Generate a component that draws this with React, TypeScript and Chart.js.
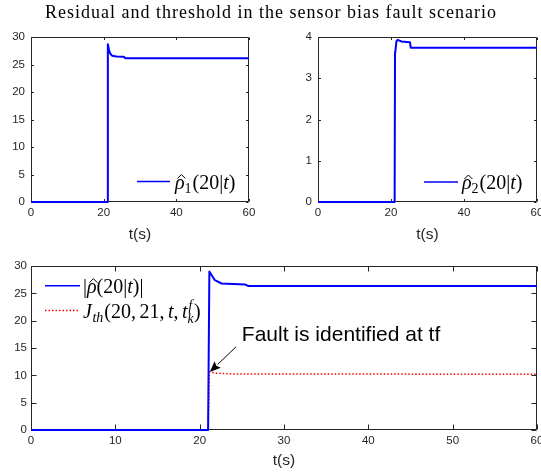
import React, { useEffect, useRef } from 'react';
import { Chart, registerables } from 'chart.js';

Chart.register(...registerables);

const W = 541;
const H = 476;

// ---------- data ----------
const tRho1 = [0, 21.0, 21.15, 21.5, 21.8, 22.3, 23.5, 25.6, 25.9, 60];
const rho1 = [0, 0, 28.7, 27.6, 27.0, 26.6, 26.45, 26.4, 26.15, 26.15];

const tRho2 = [0, 21.0, 21.1, 21.2, 21.5, 21.8, 22.9, 24.3, 25.2, 25.4, 60];
const rho2 = [0, 0, 3.63, 3.66, 3.9, 3.93, 3.89, 3.88, 3.87, 3.74, 3.74];

const tNorm = [0, 21.0, 21.15, 21.8, 22.6, 25.4, 25.8, 60];
const rhoNorm = [0, 0, 29.0, 27.4, 26.8, 26.6, 26.35, 26.35];

const tJth = [0, 21.0, 21.15, 22.0, 24.0, 60];
const jth = [0, 0, 10.6, 10.4, 10.25, 10.2];

const xTicksTop = [0, 20, 40, 60];
const xTicksBottom = [0, 10, 20, 30, 40, 50, 60];
const yTicksRho1 = [0, 5, 10, 15, 20, 25, 30];
const yTicksRho2 = [0, 1, 2, 3, 4];
const yTicksBottom = [0, 5, 10, 15, 20, 25, 30];

const titleText = 'Residual and threshold in the sensor bias fault scenario';
const xLabel = 't(s)';
const annotationText = 'Fault is identified at tf';
const annotationTextAt = [25.0, 17.4];
const arrowTail = [24.3, 15.2];
const arrowTip = [21.2, 10.6];

type Run = { s?: string; it?: boolean; sub?: boolean; sup?: boolean; hat?: boolean; stack?: [string, string]; gap?: number };

const legendRho1: Run[] = [{ s: 'ρ', it: true, hat: true }, { s: '1', sub: true }, { s: '(20|' }, { s: 't', it: true }, { s: ')' }];
const legendRho2: Run[] = [{ s: 'ρ', it: true, hat: true }, { s: '2', sub: true }, { s: '(20|' }, { s: 't', it: true }, { s: ')' }];
const legendNorm: Run[] = [{ s: '|' }, { s: 'ρ', it: true, hat: true }, { s: '(20|' }, { s: 't', it: true }, { s: ')|' }];
const legendJ: Run[] = [
  { s: 'J', it: true, gap: 0.5 }, { s: 'th', it: true, sub: true }, { s: '(20,', gap: 3.5 }, { s: '21,', gap: 3.5 }, { s: 't', it: true }, { s: ',', gap: 3.5 },
  { s: 't', it: true }, { stack: ['f', 'k'], it: true }, { s: ')' },
];

// ---------- styling ----------
const SANS = '"Liberation Sans", Arial, Helvetica, sans-serif';
const SERIF = '"Liberation Serif", "Times New Roman", serif';
const AX = '#262626';
const BLUE = '#0000ff';
const RED = '#ff0000';
const Y_W = 40;
const LEGEND_SIZE = 20;

const pts = (xs: number[], ys: number[]) => xs.map((x, i) => ({ x, y: ys[i] }));

function drawRuns(ctx: CanvasRenderingContext2D, x0: number, y: number, runs: Run[], size: number) {
  let x = x0;
  ctx.fillStyle = '#000';
  ctx.textBaseline = 'alphabetic';
  ctx.textAlign = 'left';
  for (const r of runs) {
    if (r.stack) {
      const fs = size * 0.68;
      ctx.font = `${r.it ? 'italic ' : ''}${fs}px ${SERIF}`;
      const w1 = ctx.measureText(r.stack[0]).width;
      const w2 = ctx.measureText(r.stack[1]).width;
      ctx.fillText(r.stack[0], x + 1, y - size * 0.38);
      ctx.fillText(r.stack[1], x, y + size * 0.25);
      x += Math.max(w1 + 1, w2) + 0.5;
      continue;
    }
    const fs = r.sub || r.sup ? size * 0.7 : size;
    ctx.font = `${r.it ? 'italic ' : ''}${fs}px ${SERIF}`;
    const dy = r.sub ? size * 0.22 : r.sup ? -size * 0.4 : 0;
    const s = r.s || '';
    const w = ctx.measureText(s).width;
    ctx.fillText(s, x, y + dy);
    if (r.hat) {
      const cx = x + w / 2 + size * 0.08;
      const by = y - size * 0.5;
      ctx.save();
      ctx.strokeStyle = '#000';
      ctx.lineWidth = 1;
      ctx.beginPath();
      ctx.moveTo(cx - size * 0.2, by);
      ctx.lineTo(cx, by - size * 0.2);
      ctx.lineTo(cx + size * 0.2, by);
      ctx.stroke();
      ctx.restore();
    }
    x += w + (r.sub ? 1 : 0) + (r.gap || 0);
  }
}

type LegendItem = { color: string; dash: number[]; width: number; x1: number; x2: number; y: number; runs: Run[]; tx: number };
type Panel = {
  left: number; top: number; right: number; bottom: number;
  yMax: number; xTicks: number[]; yTicks: number[];
  datasets: any[]; tickLen: number; yPad: number; xTitleCenter: number;
  legend: LegendItem[]; title?: boolean; annotate?: boolean;
};

const panels: Panel[] = [
  {
    left: 31, top: 37, right: 249, bottom: 202, yMax: 30, xTicks: xTicksTop, yTicks: yTicksRho1,
    tickLen: 2.5, yPad: 6, xTitleCenter: 235, title: true,
    datasets: [{ data: pts(tRho1, rho1), borderColor: BLUE, borderWidth: 2 }],
    legend: [{ color: BLUE, dash: [], width: 1.5, x1: 137, x2: 170, y: 181.5, tx: 175, runs: legendRho1 }],
  },
  {
    left: 318, top: 37, right: 537, bottom: 202, yMax: 4, xTicks: xTicksTop, yTicks: yTicksRho2,
    tickLen: 2.5, yPad: 6, xTitleCenter: 235,
    datasets: [{ data: pts(tRho2, rho2), borderColor: BLUE, borderWidth: 2 }],
    legend: [{ color: BLUE, dash: [], width: 1.5, x1: 424, x2: 458, y: 182, tx: 462, runs: legendRho2 }],
  },
  {
    left: 31, top: 266, right: 537, bottom: 430, yMax: 30, xTicks: xTicksBottom, yTicks: yTicksBottom,
    tickLen: 5, yPad: 4, xTitleCenter: 461.5, annotate: true,
    datasets: [
      { data: pts(tNorm, rhoNorm), borderColor: BLUE, borderWidth: 2 },
      { data: pts(tJth, jth), borderColor: RED, borderWidth: 1.5, borderDash: [1.5, 2] },
    ],
    legend: [
      { color: BLUE, dash: [], width: 1.5, x1: 45, x2: 80, y: 285.7, tx: 83, runs: legendNorm },
      { color: RED, dash: [1.5, 2], width: 1.5, x1: 45, x2: 80, y: 310.5, tx: 83, runs: legendJ },
    ],
  },
];

function makePlugin(p: Panel) {
  return {
    id: 'frame',
    beforeDatasetsDraw(chart: any) {
      const ctx: CanvasRenderingContext2D = chart.ctx;
      const a = chart.chartArea;
      const xs = chart.scales.x;
      const ys = chart.scales.y;
      ctx.save();
      ctx.strokeStyle = AX;
      ctx.lineWidth = 1;
      const L = Math.round(a.left) + 0.5, R = Math.round(a.right) - 0.5;
      const T = Math.round(a.top) + 0.5, B = Math.round(a.bottom) - 0.5;
      ctx.beginPath();
      ctx.rect(L, T, R - L, B - T);
      ctx.stroke();
      ctx.beginPath();
      for (const v of p.xTicks) {
        const px = Math.round(xs.getPixelForValue(v)) + 0.5;
        ctx.moveTo(px, B); ctx.lineTo(px, B - p.tickLen);
        ctx.moveTo(px, T); ctx.lineTo(px, T + p.tickLen);
      }
      for (const v of p.yTicks) {
        const py = Math.round(ys.getPixelForValue(v)) + 0.5;
        ctx.moveTo(L, py); ctx.lineTo(L + p.tickLen, py);
        ctx.moveTo(R, py); ctx.lineTo(R - p.tickLen, py);
      }
      ctx.stroke();
      ctx.restore();
    },
    afterDraw(chart: any) {
      const ctx: CanvasRenderingContext2D = chart.ctx;
      const xs = chart.scales.x;
      const ys = chart.scales.y;
      ctx.save();
      for (const it of p.legend) {
        ctx.save();
        ctx.strokeStyle = it.color;
        ctx.lineWidth = it.width;
        ctx.setLineDash(it.dash);
        ctx.beginPath();
        ctx.moveTo(it.x1, it.y);
        ctx.lineTo(it.x2, it.y);
        ctx.stroke();
        ctx.restore();
        drawRuns(ctx, it.tx, it.y + 7, it.runs, LEGEND_SIZE);
      }
      if (p.annotate) {
        const tx = xs.getPixelForValue(arrowTail[0]);
        const ty = ys.getPixelForValue(arrowTail[1]);
        const hx = xs.getPixelForValue(arrowTip[0]);
        const hy = ys.getPixelForValue(arrowTip[1]);
        const ang = Math.atan2(hy - ty, hx - tx);
        const hl = 11, hw = 4.5;
        const bx = hx - hl * Math.cos(ang), by = hy - hl * Math.sin(ang);
        ctx.strokeStyle = '#000';
        ctx.fillStyle = '#000';
        ctx.lineWidth = 1;
        ctx.setLineDash([]);
        ctx.beginPath();
        ctx.moveTo(tx, ty);
        ctx.lineTo(bx, by);
        ctx.stroke();
        ctx.beginPath();
        ctx.moveTo(hx, hy);
        ctx.lineTo(bx + hw * Math.sin(ang), by - hw * Math.cos(ang));
        ctx.lineTo(bx + 2 * Math.cos(ang), by + 2 * Math.sin(ang));
        ctx.lineTo(bx - hw * Math.sin(ang), by + hw * Math.cos(ang));
        ctx.closePath();
        ctx.fill();
        ctx.font = `21px ${SANS}`;
        ctx.textAlign = 'left';
        ctx.textBaseline = 'middle';
        ctx.fillText(annotationText, xs.getPixelForValue(annotationTextAt[0]), ys.getPixelForValue(annotationTextAt[1]));
      }
      if (p.title) {
        ctx.font = `18px ${SERIF}`;
        (ctx as any).letterSpacing = '1px';
        ctx.textAlign = 'center';
        ctx.textBaseline = 'middle';
        ctx.fillStyle = '#000';
        ctx.fillText(titleText, 271, 13.5);
      }
      ctx.restore();
    },
  };
}

function makeConfig(p: Panel): any {
  const xH = p.xTitleCenter - p.bottom + 9;
  return {
    type: 'line',
    data: {
      datasets: p.datasets.map((d) => ({
        ...d, pointRadius: 0, tension: 0, fill: false, borderJoinStyle: 'round', clip: 3,
      })),
    },
    options: {
      animation: false,
      responsive: false,
      devicePixelRatio: 1,
      events: [],
      layout: { padding: { left: p.left - Y_W, top: p.top, right: W - p.right, bottom: H - p.bottom - xH } },
      plugins: { legend: { display: false }, tooltip: { enabled: false }, title: { display: false } },
      scales: {
        x: {
          type: 'linear', min: 0, max: 60,
          afterBuildTicks: (s: any) => { s.ticks = p.xTicks.map((v) => ({ value: v })); },
          grid: { display: false, drawTicks: false },
          border: { display: false },
          ticks: { color: AX, font: { family: SANS, size: 11.5 }, padding: 4, maxRotation: 0, autoSkip: false },
          title: { display: true, text: xLabel, color: AX, font: { family: SANS, size: 15.5 }, padding: 0 },
          afterFit: (s: any) => { s.height = xH; s.paddingLeft = 0; s.paddingRight = 0; },
        },
        y: {
          type: 'linear', min: 0, max: p.yMax,
          afterBuildTicks: (s: any) => { s.ticks = p.yTicks.map((v) => ({ value: v })); },
          grid: { display: false, drawTicks: false },
          border: { display: false },
          ticks: { color: AX, font: { family: SANS, size: 11.5 }, padding: p.yPad, autoSkip: false },
          afterFit: (s: any) => { s.width = Y_W; s.paddingTop = 0; s.paddingBottom = 0; },
        },
      },
    },
    plugins: [makePlugin(p)],
  };
}

function PanelCanvas({ p }: { p: Panel }) {
  const ref = useRef<HTMLCanvasElement | null>(null);
  useEffect(() => {
    if (!ref.current) return;
    const chart = new Chart(ref.current, makeConfig(p));
    return () => chart.destroy();
  }, [p]);
  return (
    <canvas
      ref={ref}
      width={W}
      height={H}
      style={{ position: 'absolute', left: 0, top: 0, width: W, height: H }}
    />
  );
}

export default function App() {
  return (
    <div style={{ position: 'fixed', left: 0, top: 0, width: W, height: H, background: '#fff', overflow: 'hidden' }}>
      {panels.map((p, i) => (
        <PanelCanvas key={i} p={p} />
      ))}
    </div>
  );
}
